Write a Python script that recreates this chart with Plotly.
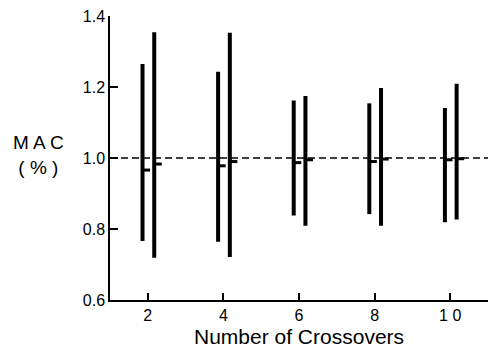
import plotly.graph_objects as go

crossovers = [2, 4, 6, 8, 10]
tick_text = ["2", "4", "6", "8", "1 0"]
y_ticks = [0.6, 0.8, 1.0, 1.2, 1.4]
y_tick_text = ["0.6", "0.8", "1.0", "1.2", "1.4"]

left_lo = [0.766, 0.764, 0.838, 0.842, 0.819]
left_hi = [1.265, 1.243, 1.162, 1.154, 1.141]
left_mean = [0.966, 0.978, 0.987, 0.990, 0.995]

right_lo = [0.719, 0.721, 0.809, 0.809, 0.827]
right_hi = [1.354, 1.353, 1.175, 1.197, 1.209]
right_mean = [0.983, 0.990, 0.995, 0.997, 0.998]

reference_value = 1.0

OFF_L, OFF_R, TICK_LEN = -0.14, 0.17, 0.2
FONT = "Liberation Sans, Arial, Helvetica, sans-serif"

fig = go.Figure()


def add_series(off, lo, hi, mean):
    xs, ys, mx, my = [], [], [], []
    for c, a, b, m in zip(crossovers, lo, hi, mean):
        xs += [c + off, c + off, None]
        ys += [a, b, None]
        mx += [c + off, c + off + TICK_LEN, None]
        my += [m, m, None]
    fig.add_trace(go.Scatter(x=xs, y=ys, mode="lines",
                             line=dict(color="black", width=4),
                             hoverinfo="skip", showlegend=False))
    fig.add_trace(go.Scatter(x=mx, y=my, mode="lines",
                             line=dict(color="black", width=3),
                             hoverinfo="skip", showlegend=False))


add_series(OFF_L, left_lo, left_hi, left_mean)
add_series(OFF_R, right_lo, right_hi, right_mean)

fig.add_shape(type="line", xref="paper", yref="y", x0=0, x1=1,
              y0=reference_value, y1=reference_value,
              line=dict(color="black", width=1.5, dash="7px,4px"),
              layer="below")

fig.add_annotation(text="M A C<br>( % )", xref="paper", yref="paper",
                   x=-0.19, y=0.51, xanchor="center", yanchor="middle",
                   showarrow=False, font=dict(family=FONT, size=19, color="black"))
fig.add_annotation(text="Number of Crossovers", xref="paper", yref="paper",
                   x=0.5, y=-0.127, xanchor="center", yanchor="middle",
                   showarrow=False, font=dict(family=FONT, size=21, color="black"))

fig.update_layout(
    width=488, height=349,
    margin=dict(l=110, r=0, t=16, b=49),
    paper_bgcolor="white", plot_bgcolor="white",
    font=dict(family=FONT, size=16, color="black"),
    xaxis=dict(range=[1, 11], tickvals=crossovers, ticktext=tick_text,
               ticks="inside", ticklen=7, tickwidth=1.5, tickcolor="black",
               showline=True, linecolor="black", linewidth=1.5,
               showgrid=False, zeroline=False, fixedrange=True),
    yaxis=dict(range=[0.6, 1.4], tickvals=y_ticks, ticktext=y_tick_text,
               ticks="inside", ticklen=8, tickwidth=1.5, tickcolor="black",
               showline=True, linecolor="black", linewidth=1.5,
               showgrid=False, zeroline=False, fixedrange=True),
)

fig.write_html("out.html", config={"displayModeBar": False},
               post_script="document.body.style.margin='0';document.body.style.overflow='hidden';")
